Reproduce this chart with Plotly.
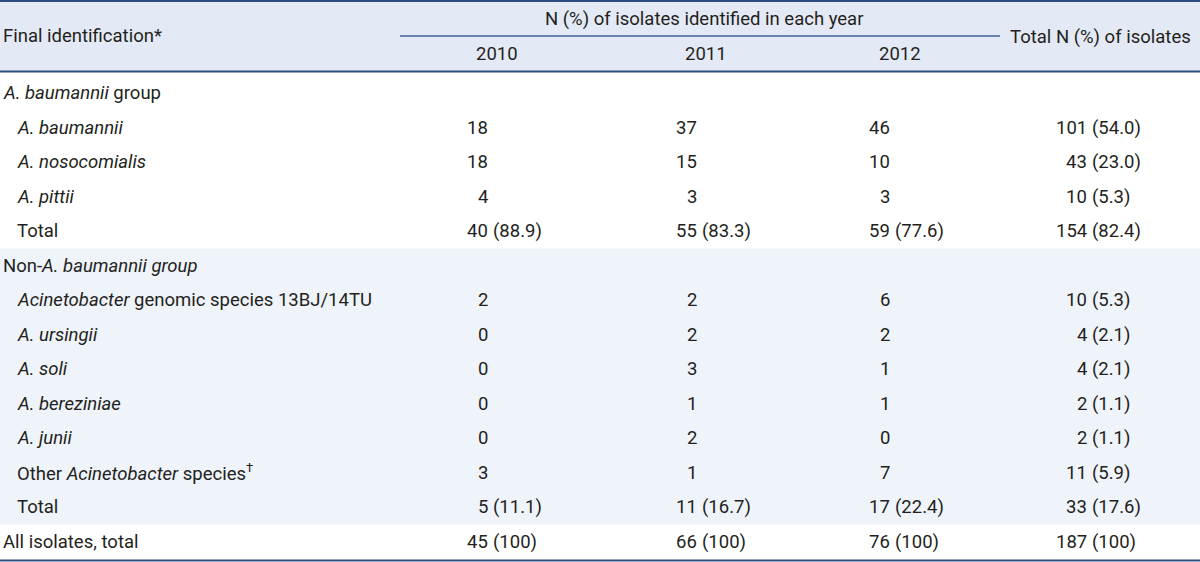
import plotly.graph_objects as go

# ---------------- data ----------------
row_labels = [
    "<i>A. baumannii</i> group",
    "<i>A. baumannii</i>",
    "<i>A. nosocomialis</i>",
    "<i>A. pittii</i>",
    "Total",
    "Non-<i>A. baumannii group</i>",
    "<i>Acinetobacter</i> genomic species 13BJ/14TU",
    "<i>A. ursingii</i>",
    "<i>A. soli</i>",
    "<i>A. bereziniae</i>",
    "<i>A. junii</i>",
    "Other <i>Acinetobacter</i> species<sup>†</sup>",
    "Total",
    "All isolates, total",
]
row_indent = [0, 1, 1, 1, 1, 0, 1, 1, 1, 1, 1, 1, 1, 0]

n_2010 = [None, 18, 18, 4, 40, None, 2, 0, 0, 0, 0, 3, 5, 45]
p_2010 = [None, None, None, None, 88.9, None, None, None, None, None, None, None, 11.1, 100]
n_2011 = [None, 37, 15, 3, 55, None, 2, 2, 3, 1, 2, 1, 11, 66]
p_2011 = [None, None, None, None, 83.3, None, None, None, None, None, None, None, 16.7, 100]
n_2012 = [None, 46, 10, 3, 59, None, 6, 2, 1, 1, 0, 7, 17, 76]
p_2012 = [None, None, None, None, 77.6, None, None, None, None, None, None, None, 22.4, 100]
n_total = [None, 101, 43, 10, 154, None, 10, 4, 4, 2, 2, 11, 33, 187]
p_total = [None, 54.0, 23.0, 5.3, 82.4, None, 5.3, 2.1, 2.1, 1.1, 1.1, 5.9, 17.6, 100]

years = ["2010", "2011", "2012"]
header_first = "Final identification*"
header_span = "N (%) of isolates identified in each year"
header_total = "Total N (%) of isolates"

# ---------------- layout / style ----------------
W, H = 1200, 562
FONT = "Roboto, Liberation Sans, Arial, sans-serif"
FS = 18.5
TXT = "#231f20"
HEAD_BG = "#e4eaf5"
BAND_BG = "#eff3fa"
LINE = "#2d4e80"

row_y0 = 93.0
row_step = 34.54
col_anchor = [488, 697, 890, 1087]   # right edge of the integer part
year_x = [497, 706, 900]

def fmt_pct(p):
    if p is None:
        return None
    if abs(p - 100) < 1e-9:
        return "(100)"
    return "({:.1f})".format(p)

fig = go.Figure()
shapes = []
ann = []

def ry(i):
    return row_y0 + i * row_step

# backgrounds
shapes.append(dict(type="rect", x0=0, x1=W, y0=0, y1=71, fillcolor=HEAD_BG, line_width=0, layer="below"))
band_top = (ry(4) + ry(5)) / 2
band_bot = (ry(12) + ry(13)) / 2
shapes.append(dict(type="rect", x0=0, x1=W, y0=band_top, y1=band_bot, fillcolor=BAND_BG, line_width=0, layer="below"))

# rules
shapes.append(dict(type="line", x0=0, x1=W, y0=1, y1=1, line=dict(color=LINE, width=2)))
shapes.append(dict(type="line", x0=400, x1=1000, y0=36, y1=36, line=dict(color="#3f6094", width=1.5)))
shapes.append(dict(type="line", x0=0, x1=W, y0=71.5, y1=71.5, line=dict(color=LINE, width=2)))
shapes.append(dict(type="line", x0=0, x1=W, y0=560.5, y1=560.5, line=dict(color=LINE, width=2)))

def add_text(x, y, text, xanchor="left"):
    ann.append(dict(x=x, y=y, xref="x", yref="y", text=text, showarrow=False,
                    xanchor=xanchor, yanchor="middle", borderpad=0, borderwidth=0,
                    font=dict(family=FONT, size=FS, color=TXT)))

# header
add_text(3, 36, header_first)
add_text(704, 19, header_span, "center")
for yx, yr in zip(year_x, years):
    add_text(yx, 54, yr, "center")
add_text(1100, 37, header_total, "center")

# body
cols = [(n_2010, p_2010), (n_2011, p_2011), (n_2012, p_2012), (n_total, p_total)]
for i, lab in enumerate(row_labels):
    y = ry(i)
    add_text(3 if row_indent[i] == 0 else 17, y, lab)
    for c, (nv, pv) in enumerate(cols):
        if nv[i] is None:
            continue
        add_text(col_anchor[c], y, str(nv[i]), "right")
        ps = fmt_pct(pv[i])
        if ps:
            add_text(col_anchor[c] + 5, y, ps, "left")

fig.update_layout(
    width=W, height=H,
    margin=dict(l=0, r=0, t=0, b=0),
    paper_bgcolor="white", plot_bgcolor="white",
    xaxis=dict(range=[0, W], visible=False, fixedrange=True),
    yaxis=dict(range=[H, 0], visible=False, fixedrange=True),
    shapes=shapes, annotations=ann, showlegend=False,
)

fig.write_html("out.html", config={"displayModeBar": False},
               post_script="document.body.style.margin='0';document.body.style.overflow='hidden';")
